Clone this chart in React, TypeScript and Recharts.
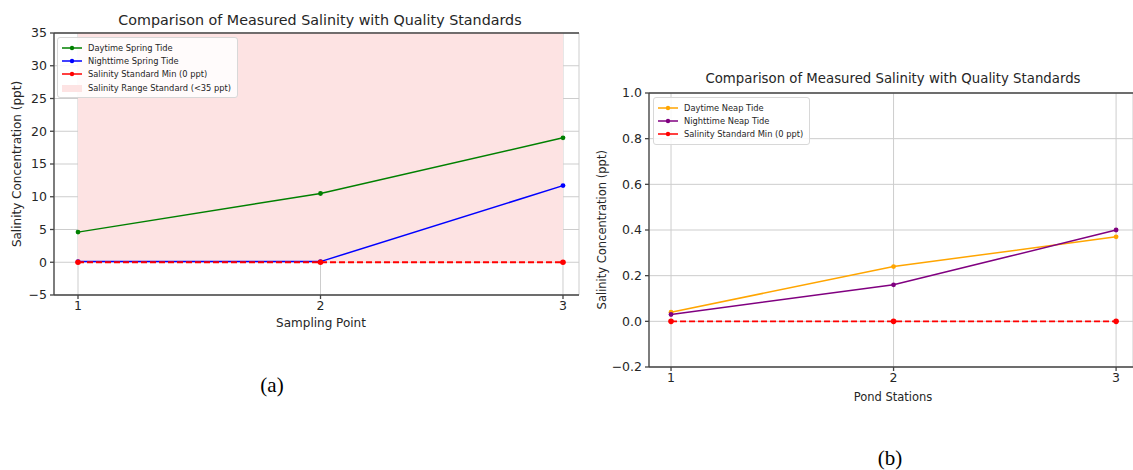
// Salinity comparison: spring tide (a) and neap tide (b), matplotlib look in Recharts
import React from "react";
import {
  ComposedChart, LineChart, Line, Area, XAxis, YAxis, CartesianGrid, Legend, ReferenceLine,
} from "recharts";

const FONT = "'DejaVu Sans', sans-serif";
const TITLE = "Comparison of Measured Salinity with Quality Standards";

const samplingPoints = [1, 2, 3];
const daytimeSpring = [4.6, 10.5, 19.0];
const nighttimeSpring = [0.1, 0.1, 11.7];
const standardMinA = [0, 0, 0];
const rangeStandard = [35, 35, 35];
const ticksA = [-5, 0, 5, 10, 15, 20, 25, 30, 35];

const pondStations = [1, 2, 3];
const daytimeNeap = [0.04, 0.24, 0.37];
const nighttimeNeap = [0.03, 0.16, 0.4];
const standardMinB = [0, 0, 0];
const ticksB = [-0.2, 0, 0.2, 0.4, 0.6, 0.8, 1.0];

const dataA = samplingPoints.map((p, i) => ({
  point: p,
  day: daytimeSpring[i],
  night: nighttimeSpring[i],
  min: standardMinA[i],
  range: [0, rangeStandard[i]],
}));

const dataB = pondStations.map((p, i) => ({
  point: p,
  day: daytimeNeap[i],
  night: nighttimeNeap[i],
  min: standardMinB[i],
}));

const PINK = "#fde3e3";
const GRID = "#cdcdcd";
const INK = "#262626";
const SPINE = "#444";

// matplotlib prints a real minus sign
const minus = (s: string) => s.replace("-", "\u2212");

type Item = { label: string; color: string; patch?: boolean };

const legendA: Item[] = [
  { label: "Daytime Spring Tide", color: "green" },
  { label: "Nighttime Spring Tide", color: "blue" },
  { label: "Salinity Standard Min (0 ppt)", color: "red" },
  { label: "Salinity Range Standard (<35 ppt)", color: PINK, patch: true },
];

const legendB: Item[] = [
  { label: "Daytime Neap Tide", color: "orange" },
  { label: "Nighttime Neap Tide", color: "purple" },
  { label: "Salinity Standard Min (0 ppt)", color: "red" },
];

const LegendBox = ({ items }: { items: Item[] }) => (
  <div
    style={{
      background: "rgba(255,255,255,0.85)",
      border: "1px solid #d8d8d8",
      borderRadius: 3,
      padding: "3px 6px 3px 4px",
      fontFamily: FONT,
      fontSize: 8.3,
      color: INK,
    }}
  >
    {items.map((it) => (
      <div key={it.label} style={{ display: "flex", alignItems: "center", height: 13.3 }}>
        <svg width={20} height={8} style={{ marginRight: 6 }}>
          {it.patch ? (
            <rect x={0} y={1} width={20} height={7} fill={it.color} />
          ) : (
            <>
              <line x1={0} y1={4} x2={20} y2={4} stroke={it.color} strokeWidth={1.5} />
              <circle cx={10} cy={4} r={2.2} fill={it.color} />
            </>
          )}
        </svg>
        <span style={{ whiteSpace: "nowrap" }}>{it.label}</span>
      </div>
    ))}
  </div>
);

const Text = ({ x, y, w, size, children, serif }: any) => (
  <div
    style={{
      position: "absolute",
      left: x - w / 2,
      top: y - size / 2,
      width: w,
      textAlign: "center",
      fontFamily: serif ? "'Liberation Serif', serif" : FONT,
      fontSize: size,
      lineHeight: `${size}px`,
      color: serif ? "#000" : INK,
      whiteSpace: "nowrap",
    }}
  >
    {children}
  </div>
);

const VText = ({ x, y, size, children }: any) => (
  <div
    style={{
      position: "absolute",
      left: x - 150,
      top: y - size / 2,
      width: 300,
      textAlign: "center",
      fontFamily: FONT,
      fontSize: size,
      lineHeight: `${size}px`,
      color: INK,
      transform: "rotate(-90deg)",
      whiteSpace: "nowrap",
    }}
  >
    {children}
  </div>
);

const tickStyle = { fontSize: 12.5, fill: INK, fontFamily: FONT };
const dot = (c: string, r = 2.4) => ({ r, fill: c, stroke: "none" });

export default function App() {
  return (
    <div style={{ position: "absolute", left: 0, top: 0, width: 1133, height: 470, background: "#fff", overflow: "hidden" }}>
      {/* (a) spring tide */}
      <div style={{ position: "absolute", left: 0, top: 0 }}>
        <ComposedChart width={580} height={340} data={dataA} margin={{ top: 33, right: 1, bottom: 0, left: 0 }}>
          <CartesianGrid stroke={GRID} strokeWidth={1} />
          <XAxis
            type="number"
            dataKey="point"
            domain={[0.901, 3.066]}
            ticks={samplingPoints}
            allowDataOverflow
            height={45}
            tick={tickStyle}
            tickSize={4}
            tickMargin={2}
            stroke={SPINE}
            strokeWidth={1.3}
          />
          <YAxis
            type="number"
            domain={[-5, 35]}
            ticks={ticksA}
            tickFormatter={(v: number) => minus(String(v))}
            width={54}
            tick={tickStyle}
            tickSize={4}
            tickMargin={3}
            stroke={SPINE}
            strokeWidth={1.3}
            allowDataOverflow
          />
          <ReferenceLine y={35} stroke={SPINE} strokeWidth={1.3} />
          <Area dataKey="range" stroke="none" fill={PINK} fillOpacity={1} isAnimationActive={false} />
          <Line dataKey="day" stroke="green" strokeWidth={1.5} dot={dot("green")} isAnimationActive={false} />
          <Line dataKey="night" stroke="blue" strokeWidth={1.5} dot={dot("blue")} isAnimationActive={false} />
          <Line dataKey="min" stroke="red" strokeWidth={1.8} strokeDasharray="6 3" dot={dot("red", 2.8)} isAnimationActive={false} />
          <Legend
            layout="vertical"
            align="center"
            verticalAlign="middle"
            content={() => <LegendBox items={legendA} />}
            wrapperStyle={{ left: 57, top: 37, width: "auto", height: "auto" }}
          />
        </ComposedChart>
      </div>
      <Text x={320} y={20} w={500} size={14.3}>{TITLE}</Text>
      <Text x={321} y={323} w={200} size={12}>Sampling Point</Text>
      <VText x={17} y={164} size={12}>Salinity Concentration (ppt)</VText>
      <Text x={272} y={385} w={60} size={21} serif>(a)</Text>

      {/* (b) neap tide */}
      <div style={{ position: "absolute", left: 595, top: 60 }}>
        <LineChart width={538} height={340} data={dataB} margin={{ top: 33, right: 0, bottom: 0, left: 0 }}>
          <CartesianGrid stroke={GRID} strokeWidth={1} />
          <XAxis
            type="number"
            dataKey="point"
            domain={[0.901, 3.076]}
            ticks={pondStations}
            allowDataOverflow
            height={33}
            tick={tickStyle}
            tickSize={4}
            tickMargin={2}
            stroke={SPINE}
            strokeWidth={1.3}
          />
          <YAxis
            type="number"
            domain={[-0.2, 1.0]}
            ticks={ticksB}
            tickFormatter={(v: number) => minus(v.toFixed(1))}
            width={54}
            tick={tickStyle}
            tickSize={4}
            tickMargin={3}
            stroke={SPINE}
            strokeWidth={1.3}
            allowDataOverflow
          />
          <ReferenceLine y={1.0} stroke={SPINE} strokeWidth={1.3} />
          <Line dataKey="day" stroke="orange" strokeWidth={1.5} dot={dot("orange")} isAnimationActive={false} />
          <Line dataKey="night" stroke="purple" strokeWidth={1.5} dot={dot("purple")} isAnimationActive={false} />
          <Line dataKey="min" stroke="red" strokeWidth={1.8} strokeDasharray="6 3" dot={dot("red", 2.8)} isAnimationActive={false} />
          <Legend
            layout="vertical"
            align="center"
            verticalAlign="middle"
            content={() => <LegendBox items={legendB} />}
            wrapperStyle={{ left: 58, top: 37, width: "auto", height: "auto" }}
          />
        </LineChart>
      </div>
      <Text x={893} y={79} w={500} size={13.3}>{TITLE}</Text>
      <Text x={893} y={398} w={200} size={11.5}>Pond Stations</Text>
      <VText x={603} y={230} size={11.5}>Salinity Concentration (ppt)</VText>
      <Text x={890} y={458} w={60} size={21} serif>(b)</Text>
    </div>
  );
}
